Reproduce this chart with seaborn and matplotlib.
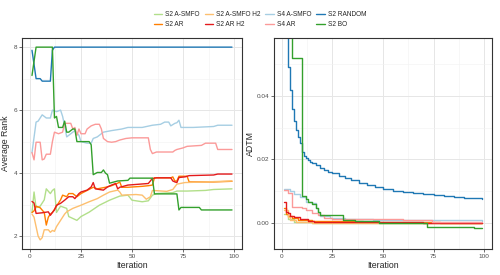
import pandas as pd
import seaborn as sns
import matplotlib.pyplot as plt
from matplotlib.lines import Line2D
from matplotlib.ticker import MultipleLocator

# methods in legend / drawing order and their colours
methods = ["S2 A-SMFO", "S2 AR", "S2 A-SMFO H2", "S2 AR H2",
           "S4 A-SMFO", "S4 AR", "S2 RANDOM", "S2 BO"]
colors = ["#b2df8a", "#ff7f00", "#fdbf6f", "#e31a1c",
          "#a6cee3", "#fb9a99", "#1f78b4", "#33a02c"]

# ---- Average rank (left panel), vertices ----
rank_s2_asmfo_x = [1, 2, 3, 5, 7, 8, 10, 11, 12, 13, 15, 18, 19, 21, 23, 25, 29, 34, 39, 44, 48, 50, 55, 58, 60, 62, 70, 72, 77, 86, 90, 99]
rank_s2_asmfo_y = [2.75, 3.4, 2.9, 2.95, 3.15, 3.5, 3.35, 3.45, 3.5, 2.75, 2.95, 2.88, 2.62, 2.56, 2.5, 2.62, 2.76, 2.98, 3.14, 3.27, 3.3, 3.14, 3.09, 3.12, 3.3, 3.35, 3.38, 3.43, 3.43, 3.45, 3.48, 3.5]

rank_s2_ar_x = [1, 2, 3, 5, 7, 8, 9, 10, 11, 13, 15, 16, 18, 19, 21, 23, 25, 28, 31, 33, 37, 40, 43, 44, 45, 48, 55, 58, 60, 61, 69, 70, 71, 72, 73, 77, 78, 90, 99]
rank_s2_ar_y = [2.75, 2.8, 2.95, 2.9, 2.75, 2.35, 2.6, 2.7, 2.75, 2.95, 3.15, 3.3, 3.25, 3.35, 3.35, 3.25, 3.35, 3.45, 3.55, 3.5, 3.55, 3.6, 3.68, 3.72, 3.55, 3.55, 3.58, 3.6, 3.62, 3.85, 3.85, 3.88, 3.75, 3.75, 3.9, 3.9, 3.72, 3.72, 3.74]

rank_s2_asmfo_h2_x = [1, 2, 3, 4, 5, 6, 7, 9, 10, 11, 12, 13, 15, 17, 18, 21, 25, 29, 33, 36, 39, 43, 44, 45, 52, 55, 57, 59, 60, 67, 70, 72, 76, 86, 99]
rank_s2_asmfo_h2_y = [2.7, 2.6, 2.3, 2.0, 1.88, 1.95, 2.2, 2.2, 2.12, 2.18, 2.15, 2.3, 2.5, 2.7, 2.77, 2.88, 2.98, 3.09, 3.19, 3.3, 3.4, 3.46, 3.4, 3.3, 3.32, 3.3, 3.17, 3.25, 3.45, 3.42, 3.48, 3.65, 3.7, 3.72, 3.75]

rank_s2_ar_h2_x = [1, 2, 3, 6, 9, 10, 11, 12, 13, 15, 17, 19, 21, 22, 24, 25, 28, 30, 31, 32, 36, 38, 40, 42, 43, 44, 48, 58, 59, 60, 62, 69, 70, 71, 72, 73, 76, 78, 90, 92, 99]
rank_s2_ar_h2_y = [3.1, 3.05, 2.72, 2.74, 2.77, 2.66, 2.75, 2.83, 2.98, 3.04, 3.14, 3.25, 3.25, 3.19, 3.35, 3.4, 3.46, 3.56, 3.7, 3.5, 3.46, 3.56, 3.62, 3.67, 3.5, 3.55, 3.62, 3.67, 3.75, 3.83, 3.85, 3.85, 3.75, 3.72, 3.7, 3.86, 3.88, 3.92, 3.94, 3.97, 3.97]

rank_s4_asmfo_x = [1, 3, 4, 6, 7, 8, 10, 11, 13, 15, 16, 17, 18, 20, 22, 24, 25, 28, 30, 31, 33, 36, 40, 45, 48, 55, 60, 64, 66, 68, 69, 71, 72, 73, 74, 80, 90, 92, 99]
rank_s4_asmfo_y = [4.65, 5.62, 5.65, 5.85, 5.8, 5.75, 5.75, 6.0, 5.95, 6.0, 5.8, 5.5, 5.15, 5.25, 5.35, 5.2, 5.0, 4.95, 4.95, 5.1, 5.15, 5.3, 5.35, 5.4, 5.45, 5.45, 5.52, 5.55, 5.62, 5.62, 5.5, 5.58, 5.6, 5.68, 5.45, 5.45, 5.48, 5.52, 5.52]

rank_s4_ar_x = [1, 2, 3, 5, 6, 7, 8, 10, 11, 12, 14, 16, 17, 20, 21, 22, 23, 24, 25, 27, 28, 30, 32, 34, 35, 36, 38, 40, 42, 44, 47, 50, 58, 59, 60, 62, 70, 71, 72, 75, 77, 84, 86, 91, 92, 99]
rank_s4_ar_y = [4.65, 4.42, 4.98, 4.98, 4.42, 4.45, 4.6, 4.6, 5.0, 5.3, 5.25, 5.3, 5.58, 5.58, 5.4, 5.45, 5.2, 5.4, 5.25, 5.25, 5.4, 5.5, 5.55, 5.55, 5.4, 5.1, 5.0, 4.98, 5.0, 5.05, 5.1, 5.12, 5.12, 4.75, 4.62, 4.67, 4.67, 4.72, 4.75, 4.8, 4.85, 4.88, 4.95, 4.95, 4.75, 4.75]

rank_s2_random_x = [1, 3, 5, 6, 10, 11, 12, 99]
rank_s2_random_y = [7.9, 7.0, 7.0, 6.92, 6.92, 7.9, 8.0, 8.0]

rank_s2_bo_x = [1, 3, 11, 12, 13, 14, 16, 17, 18, 19, 20, 21, 22, 23, 29, 30, 31, 33, 35, 36, 37, 38, 39, 43, 48, 49, 60, 61, 72, 73, 74, 83, 84, 99]
rank_s2_bo_y = [7.1, 8.0, 8.0, 5.75, 5.8, 5.45, 5.45, 5.65, 5.3, 5.3, 5.35, 5.4, 5.4, 5.0, 5.0, 4.9, 3.95, 4.02, 4.02, 4.1, 4.0, 3.95, 3.68, 3.75, 3.77, 3.84, 3.84, 3.34, 3.34, 2.83, 2.91, 2.91, 2.83, 2.83]

# ---- ADTM (right panel), step change points ----
adtm_s2_asmfo_x = [1, 3, 6, 15, 99]
adtm_s2_asmfo_y = [0.003, 0.0012, 0.0005, 0.0001, 0.0]

adtm_s2_ar_x = [1, 2, 3, 5, 8, 15, 40, 78, 99]
adtm_s2_ar_y = [0.0047, 0.003, 0.0022, 0.0016, 0.0011, 0.0006, 0.0003, 0.0, 0.0]

adtm_s2_asmfo_h2_x = [1, 3, 4, 7, 15, 99]
adtm_s2_asmfo_h2_y = [0.0042, 0.002, 0.001, 0.0003, 0.0, 0.0]

adtm_s2_ar_h2_x = [1, 2, 3, 4, 6, 9, 13, 16, 70, 99]
adtm_s2_ar_h2_y = [0.0068, 0.0036, 0.0031, 0.0023, 0.0018, 0.0013, 0.0008, 0.0005, 0.0, 0.0]

adtm_s4_asmfo_x = [1, 4, 6, 9, 12, 15, 17, 18, 19, 24, 31, 45, 99]
adtm_s4_asmfo_y = [0.0107, 0.0101, 0.0092, 0.0083, 0.0068, 0.0063, 0.0047, 0.0031, 0.0021, 0.0016, 0.0012, 0.0009, 0.0008]

adtm_s4_ar_x = [1, 3, 5, 10, 12, 15, 18, 21, 25, 60, 74, 99]
adtm_s4_ar_y = [0.0105, 0.0096, 0.0052, 0.0049, 0.0042, 0.0033, 0.0026, 0.0017, 0.0013, 0.001, 0.0005, 0.0005]

adtm_s2_random_x = [1, 3, 4, 5, 6, 7, 8, 9, 10, 11, 12, 13, 14, 15, 17, 19, 21, 23, 25, 28, 31, 34, 38, 42, 46, 50, 55, 60, 65, 70, 75, 80, 85, 90, 95, 99]
adtm_s2_random_y = [0.09, 0.049, 0.0418, 0.0357, 0.0322, 0.0293, 0.027, 0.0252, 0.0224, 0.021, 0.0204, 0.0198, 0.0193, 0.0188, 0.0182, 0.0174, 0.0167, 0.0161, 0.0156, 0.0148, 0.0141, 0.0135, 0.0127, 0.012, 0.0114, 0.0107, 0.0101, 0.0097, 0.0094, 0.0091, 0.0088, 0.0085, 0.0082, 0.008, 0.0078, 0.0077]

adtm_s2_bo_x = [1, 5, 10, 12, 13, 15, 17, 18, 19, 30, 36, 48, 72, 95, 99]
adtm_s2_bo_y = [0.07, 0.0517, 0.0085, 0.0076, 0.0068, 0.006, 0.0048, 0.0036, 0.0027, 0.0009, 0.0006, 0.0, -0.0011, -0.0016, -0.0016]

rank_series = [
    (rank_s2_asmfo_x, rank_s2_asmfo_y), (rank_s2_ar_x, rank_s2_ar_y),
    (rank_s2_asmfo_h2_x, rank_s2_asmfo_h2_y), (rank_s2_ar_h2_x, rank_s2_ar_h2_y),
    (rank_s4_asmfo_x, rank_s4_asmfo_y), (rank_s4_ar_x, rank_s4_ar_y),
    (rank_s2_random_x, rank_s2_random_y), (rank_s2_bo_x, rank_s2_bo_y),
]
adtm_series = [
    (adtm_s2_asmfo_x, adtm_s2_asmfo_y), (adtm_s2_ar_x, adtm_s2_ar_y),
    (adtm_s2_asmfo_h2_x, adtm_s2_asmfo_h2_y), (adtm_s2_ar_h2_x, adtm_s2_ar_h2_y),
    (adtm_s4_asmfo_x, adtm_s4_asmfo_y), (adtm_s4_ar_x, adtm_s4_ar_y),
    (adtm_s2_random_x, adtm_s2_random_y), (adtm_s2_bo_x, adtm_s2_bo_y),
]


def long_frame(series):
    parts = []
    for name, (xs, ys) in zip(methods, series):
        parts.append(pd.DataFrame({"Iteration": xs, "value": ys, "method": name}))
    return pd.concat(parts, ignore_index=True)


rank_df = long_frame(rank_series)
adtm_df = long_frame(adtm_series)
palette = dict(zip(methods, colors))

sns.set_theme(style="whitegrid")
plt.rcParams['font.family'] = ['Liberation Sans', 'DejaVu Sans']

fig = plt.figure(figsize=(5, 2.75), dpi=100)
ax1 = fig.add_axes([22 / 500, 26 / 275, 220 / 500, 211 / 275])
ax2 = fig.add_axes([274 / 500, 26 / 275, 218 / 500, 211 / 275])

sns.lineplot(data=rank_df, x="Iteration", y="value", hue="method", hue_order=methods,
             palette=palette, estimator=None, linewidth=1.0, legend=False, ax=ax1)
sns.lineplot(data=adtm_df, x="Iteration", y="value", hue="method", hue_order=methods,
             palette=palette, estimator=None, linewidth=1.0, legend=False,
             drawstyle="steps-post", ax=ax2)

ax1.set_xlim(-3.9, 103.9)
ax1.set_ylim(1.59, 8.29)
ax1.yaxis.set_major_locator(MultipleLocator(2))
ax1.yaxis.set_minor_locator(MultipleLocator(1))
ax1.set_ylabel("Average Rank")

ax2.set_xlim(-3.9, 103.9)
ax2.set_ylim(-0.0081, 0.0581)
ax2.yaxis.set_major_locator(MultipleLocator(0.02))
ax2.yaxis.set_minor_locator(MultipleLocator(0.01))
ax2.yaxis.set_major_formatter(lambda v, p: f"{v:.2f}")
ax2.set_ylabel("ADTM")

for ax in (ax1, ax2):
    ax.xaxis.set_major_locator(MultipleLocator(25))
    ax.xaxis.set_minor_locator(MultipleLocator(12.5))
    ax.set_xlabel("Iteration")
    ax.xaxis.label.set_size(6.3)
    ax.yaxis.label.set_size(6.3)
    ax.xaxis.labelpad = 1
    ax.yaxis.labelpad = 1
    ax.grid(which="major", color="#e6e6e6", linewidth=0.7)
    ax.grid(which="minor", color="#f2f2f2", linewidth=0.4)
    ax.set_axisbelow(True)
    ax.tick_params(which="major", bottom=True, left=True, direction="out", length=2,
                   width=0.5, color="#333333", labelsize=4.6, labelcolor="#4d4d4d", pad=1.5)
    ax.tick_params(which="minor", bottom=False, left=False)
    for sp in ax.spines.values():
        sp.set_color("#333333")
        sp.set_linewidth(0.8)

handles = [Line2D([0], [0], color=c, lw=1.0) for c in colors]
fig.legend(handles, methods, ncol=4, loc="upper center", bbox_to_anchor=(0.52, 0.96),
           frameon=False, fontsize=4.7, handlelength=1.3, handletextpad=0.45,
           columnspacing=0.75, labelspacing=0.45, borderpad=0, borderaxespad=0)

fig.savefig("out.png", dpi=100)
